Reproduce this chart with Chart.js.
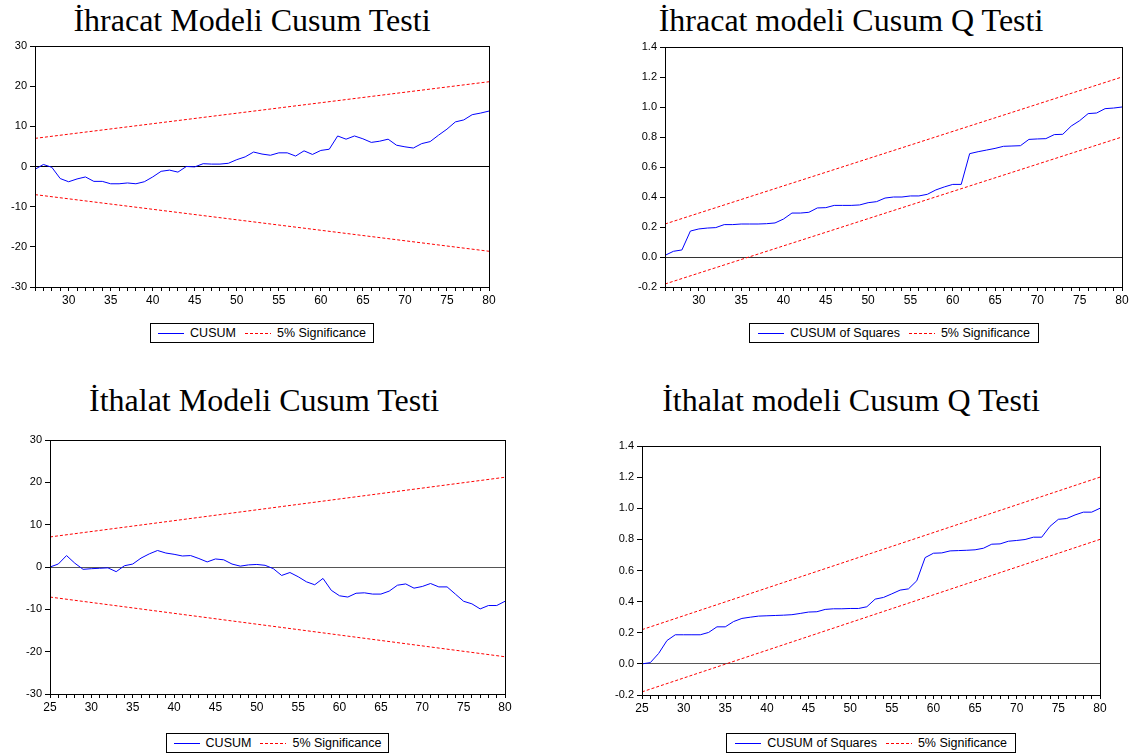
<!DOCTYPE html>
<html>
<head>
<meta charset="utf-8">
<script src="https://cdn.jsdelivr.net/npm/chart.js@4.4.1/dist/chart.umd.min.js"></script>
<style>
  body {
    margin: 0;
    width: 1134px;
    height: 756px;
    position: relative;
    overflow: hidden;
    background: #fff;
    font-family: "Liberation Sans", Arial, sans-serif;
  }
  .title {
    position: absolute;
    font-family: "Liberation Serif", "Times New Roman", serif;
    font-size: 32px;
    color: #000;
    white-space: nowrap;
    transform: translateX(-50%);
  }
  .chart-box {
    position: absolute;
  }
  .legend {
    position: absolute;
    box-sizing: border-box;
    border: 1px solid #000;
    display: flex;
    align-items: center;
    justify-content: center;
    font-size: 12.5px;
    color: #000;
    white-space: nowrap;
  }
  .legend .sample {
    display: inline-block;
    width: 26px;
    height: 1px;
    margin-right: 6px;
  }
  .legend .solid { background: #0000ff; }
  .legend .dash { background: repeating-linear-gradient(90deg, #ff0000 0 3px, transparent 3px 5px); }
  .legend .gap { width: 9px; display: inline-block; }
</style>
</head>
<body>

<div class="title" style="left:252px; top:2px;">İhracat Modeli Cusum Testi</div>
<div class="title" style="left:851px; top:2px;">İhracat modeli Cusum Q Testi</div>
<div class="title" style="left:264px; top:382px;">İthalat Modeli Cusum Testi</div>
<div class="title" style="left:851px; top:382px;">İthalat modeli Cusum Q Testi</div>

<div class="chart-box" id="box1"><canvas id="chart1"></canvas></div>
<div class="chart-box" id="box2"><canvas id="chart2"></canvas></div>
<div class="chart-box" id="box3"><canvas id="chart3"></canvas></div>
<div class="chart-box" id="box4"><canvas id="chart4"></canvas></div>

<div class="legend" style="left:150px; top:323px; width:224px; height:20px;">
  <span class="sample solid"></span>CUSUM<span class="gap"></span><span class="sample dash"></span>5% Significance
</div>
<div class="legend" style="left:749px; top:323px; width:290px; height:20px;">
  <span class="sample solid"></span>CUSUM of Squares<span class="gap"></span><span class="sample dash"></span>5% Significance
</div>
<div class="legend" style="left:166px; top:733px; width:223px; height:20px;">
  <span class="sample solid"></span>CUSUM<span class="gap"></span><span class="sample dash"></span>5% Significance
</div>
<div class="legend" style="left:726px; top:733px; width:290px; height:20px;">
  <span class="sample solid"></span>CUSUM of Squares<span class="gap"></span><span class="sample dash"></span>5% Significance
</div>

<script>
// ---- data ----

// İhracat, CUSUM: observations 26..80
const exportStart = 26;
const exportEnd = 80;
const exportCusum = [
  -0.7, 0.5, -0.2, -3.0, -3.8, -3.1, -2.6, -3.7, -3.7, -4.3,
  -4.3, -4.1, -4.3, -3.8, -2.6, -1.2, -0.9, -1.4, 0.0, -0.1,
  0.7, 0.6, 0.6, 0.8, 1.7, 2.4, 3.6, 3.1, 2.8, 3.4,
  3.4, 2.6, 3.9, 3.0, 4.0, 4.3, 7.6, 6.8, 7.6, 6.9,
  6.0, 6.3, 6.8, 5.3, 4.9, 4.6, 5.7, 6.2, 7.8, 9.3,
  11.1, 11.6, 12.9, 13.3, 13.8
];
const exportCusumUpper = [7.0, 21.1];
const exportCusumLower = [-7.0, -21.1];

// İhracat, CUSUM of squares
const exportCusumSq = [
  0.011, 0.038, 0.047, 0.173, 0.187, 0.193, 0.196, 0.216, 0.216, 0.220,
  0.220, 0.220, 0.222, 0.227, 0.253, 0.293, 0.293, 0.298, 0.327, 0.329,
  0.344, 0.344, 0.344, 0.347, 0.362, 0.369, 0.393, 0.400, 0.400, 0.407,
  0.407, 0.418, 0.447, 0.467, 0.484, 0.484, 0.689, 0.702, 0.713, 0.724,
  0.738, 0.740, 0.742, 0.784, 0.787, 0.789, 0.816, 0.818, 0.873, 0.909,
  0.956, 0.960, 0.989, 0.993, 1.000
];
const exportSqUpper = [0.22, 1.2];
const exportSqLower = [-0.18, 0.8];

// İthalat, CUSUM: observations 25..80
const importStart = 25;
const importEnd = 80;
const importCusum = [
  0.0, 0.7, 2.7, 0.9, -0.55, -0.4, -0.3, -0.2, -1.1, 0.3,
  0.7, 2.1, 3.1, 3.9, 3.3, 3.0, 2.6, 2.7, 2.0, 1.2,
  1.9, 1.7, 0.7, 0.2, 0.5, 0.6, 0.4, -0.4, -2.0, -1.3,
  -2.3, -3.5, -4.2, -2.7, -5.5, -6.8, -7.1, -6.2, -6.1, -6.4,
  -6.4, -5.7, -4.3, -4.0, -5.0, -4.6, -3.9, -4.7, -4.7, -6.4,
  -8.1, -8.7, -9.9, -9.1, -9.1, -8.1
];
const importCusumUpper = [7.1, 21.2];
const importCusumLower = [-7.1, -21.2];

// İthalat, CUSUM of squares
const importCusumSq = [
  0.000, 0.008, 0.067, 0.150, 0.187, 0.187, 0.187, 0.187, 0.202, 0.238,
  0.238, 0.272, 0.292, 0.300, 0.307, 0.309, 0.311, 0.313, 0.316, 0.324,
  0.333, 0.335, 0.350, 0.354, 0.354, 0.356, 0.356, 0.367, 0.416, 0.427,
  0.450, 0.474, 0.482, 0.534, 0.683, 0.711, 0.713, 0.726, 0.728, 0.730,
  0.733, 0.743, 0.769, 0.771, 0.788, 0.793, 0.799, 0.814, 0.814, 0.884,
  0.929, 0.934, 0.957, 0.975, 0.975, 1.000
];
const importSqUpper = [0.22, 1.2];
const importSqLower = [-0.18, 0.8];

const cusumTicks = { min: -30, max: 30, step: 10 };
const sqTicks = { min: -0.2, max: 1.4, step: 0.2 };

// ---- helpers ----

function toPoints(start, values) {
  return values.map((v, i) => ({ x: start + i, y: v }));
}

function boundPoints(start, end, pair) {
  return [{ x: start, y: pair[0] }, { x: end, y: pair[1] }];
}

const framePlugin = {
  id: "frame",
  afterDraw(chart) {
    const { ctx, chartArea } = chart;
    ctx.save();
    ctx.strokeStyle = "#000";
    ctx.lineWidth = 1;
    ctx.strokeRect(
      Math.round(chartArea.left) + 0.5,
      Math.round(chartArea.top) + 0.5,
      Math.round(chartArea.right - chartArea.left),
      Math.round(chartArea.bottom - chartArea.top)
    );
    ctx.restore();
  }
};

function buildChart(cfg) {
  const box = document.getElementById(cfg.boxId);
  box.style.left = cfg.box.left + "px";
  box.style.top = cfg.box.top + "px";
  box.style.width = cfg.box.width + "px";
  box.style.height = cfg.box.height + "px";

  const xAxisHeight = 26;
  const area = cfg.area;

  return new Chart(document.getElementById(cfg.canvasId), {
    type: "line",
    data: {
      datasets: [
        {
          label: cfg.seriesLabel,
          data: toPoints(cfg.start, cfg.values),
          borderColor: "#0000ff",
          borderWidth: 1,
          pointRadius: 0,
          tension: 0
        },
        {
          label: "5% Significance",
          data: boundPoints(cfg.start, cfg.end, cfg.upper),
          borderColor: "#ff0000",
          borderWidth: 1,
          borderDash: [3, 2],
          pointRadius: 0
        },
        {
          label: "5% Significance lower",
          data: boundPoints(cfg.start, cfg.end, cfg.lower),
          borderColor: "#ff0000",
          borderWidth: 1,
          borderDash: [3, 2],
          pointRadius: 0
        }
      ]
    },
    options: {
      responsive: false,
      animation: false,
      devicePixelRatio: 1,
      layout: {
        padding: {
          left: 0,
          top: area.top,
          right: cfg.box.width - area.right,
          bottom: cfg.box.height - area.bottom - xAxisHeight
        }
      },
      plugins: {
        legend: { display: false },
        tooltip: { enabled: false }
      },
      scales: {
        x: {
          type: "linear",
          min: cfg.xMin,
          max: cfg.end,
          afterFit(scale) {
            scale.height = xAxisHeight;
          },
          ticks: {
            stepSize: 1,
            autoSkip: false,
            maxRotation: 0,
            padding: 2,
            color: "#000",
            font: { family: "'Liberation Sans', Arial, sans-serif", size: 12 },
            callback(value) {
              return value % 5 === 0 ? String(value) : "";
            }
          },
          grid: {
            color: "rgba(0,0,0,0)",
            tickColor: "#000",
            tickLength: 4
          },
          border: { display: true, color: "#000", width: 1 }
        },
        y: {
          min: cfg.yTicks.min,
          max: cfg.yTicks.max,
          afterFit(scale) {
            scale.width = area.left;
          },
          ticks: {
            stepSize: cfg.yTicks.step,
            padding: 3,
            color: "#000",
            font: { family: "'Liberation Sans', Arial, sans-serif", size: 11 },
            callback(value) {
              const v = Math.abs(value) < 1e-9 ? 0 : Number(value);
              return cfg.decimals ? v.toFixed(cfg.decimals) : String(Math.round(v));
            }
          },
          grid: {
            color(ctx) {
              return ctx.tick && Math.abs(ctx.tick.value) < 1e-9 ? cfg.zeroColor : "rgba(0,0,0,0)";
            },
            tickColor: "#000",
            tickLength: 5
          },
          border: { display: true, color: "#000", width: 1 }
        }
      }
    },
    plugins: [framePlugin]
  });
}

function sizeCanvas(id, w, h) {
  const c = document.getElementById(id);
  c.width = w;
  c.height = h;
  c.style.width = w + "px";
  c.style.height = h + "px";
}

const panels = [
  {
    boxId: "box1", canvasId: "chart1",
    box: { left: 0, top: 30, width: 520, height: 290 },
    area: { left: 35, top: 16, right: 489, bottom: 257 },
    seriesLabel: "CUSUM",
    start: exportStart, end: exportEnd, xMin: exportStart,
    values: exportCusum, upper: exportCusumUpper, lower: exportCusumLower,
    yTicks: cusumTicks, decimals: 0, zeroColor: "#000"
  },
  {
    boxId: "box2", canvasId: "chart2",
    box: { left: 620, top: 30, width: 514, height: 290 },
    area: { left: 45, top: 17, right: 502, bottom: 257 },
    seriesLabel: "CUSUM of Squares",
    start: exportStart, end: exportEnd, xMin: exportStart,
    values: exportCusumSq, upper: exportSqUpper, lower: exportSqLower,
    yTicks: sqTicks, decimals: 1, zeroColor: "#333"
  },
  {
    boxId: "box3", canvasId: "chart3",
    box: { left: 0, top: 425, width: 520, height: 300 },
    area: { left: 50, top: 15, right: 505, bottom: 269 },
    seriesLabel: "CUSUM",
    start: importStart, end: importEnd, xMin: importStart,
    values: importCusum, upper: importCusumUpper, lower: importCusumLower,
    yTicks: cusumTicks, decimals: 0, zeroColor: "#555"
  },
  {
    boxId: "box4", canvasId: "chart4",
    box: { left: 600, top: 425, width: 534, height: 300 },
    area: { left: 42, top: 21, right: 500, bottom: 270 },
    seriesLabel: "CUSUM of Squares",
    start: importStart, end: importEnd, xMin: importStart,
    values: importCusumSq, upper: importSqUpper, lower: importSqLower,
    yTicks: sqTicks, decimals: 1, zeroColor: "#555"
  }
];

panels.forEach((p) => {
  sizeCanvas(p.canvasId, p.box.width, p.box.height);
  buildChart(p);
});
</script>
</body>
</html>
